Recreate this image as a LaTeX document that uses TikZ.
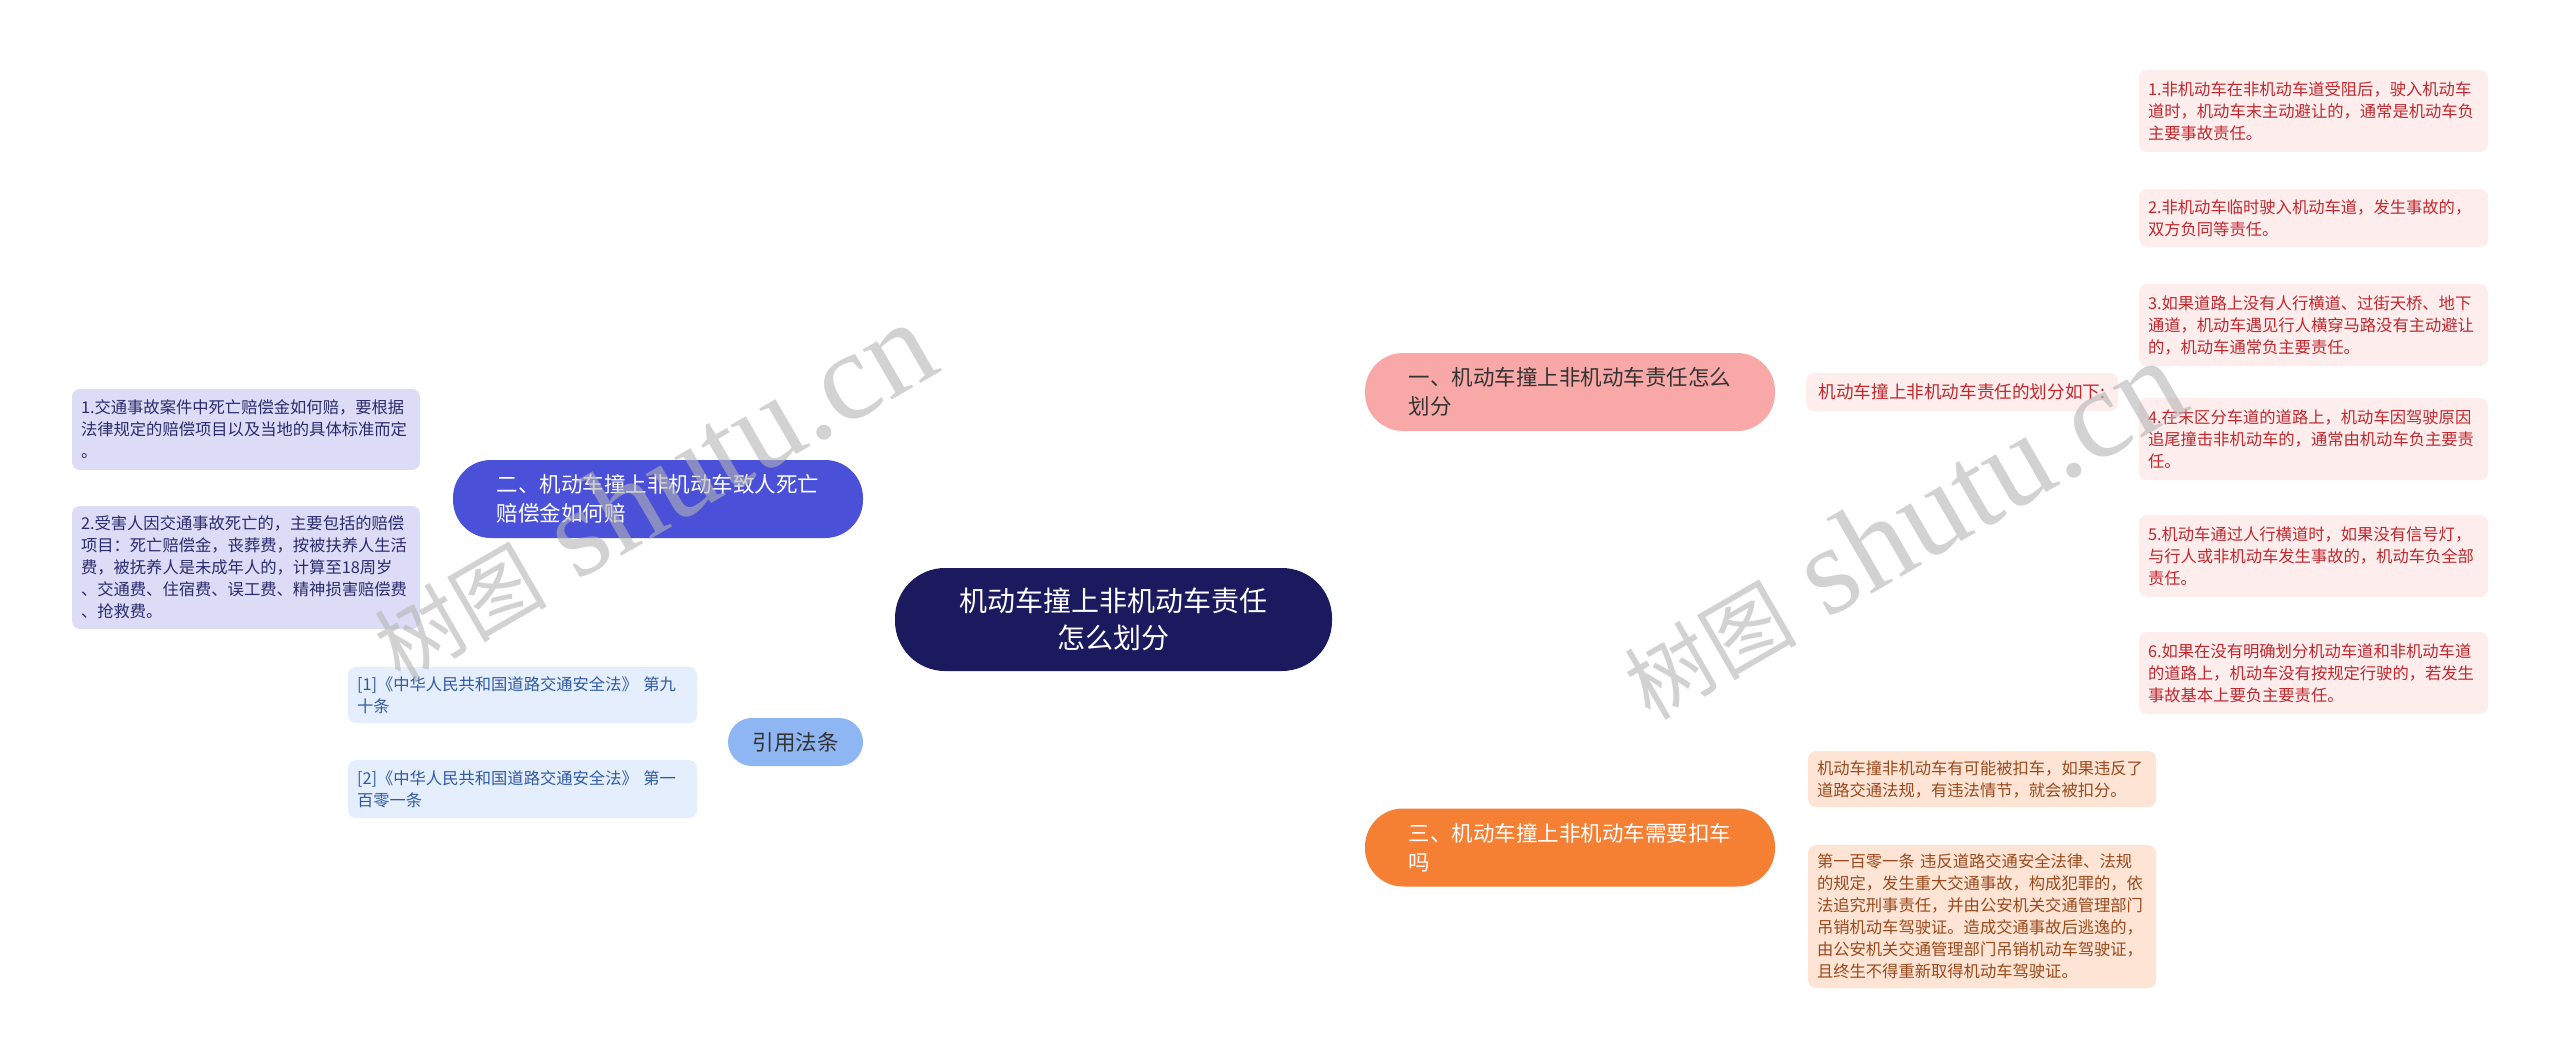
\documentclass[tikz,border=0pt]{standalone}
\usepackage{fontspec}
\setmainfont{Noto Sans CJK SC}
\newfontfamily\wmserif{Liberation Serif}
\usetikzlibrary{calc}
\pgfdeclarelayer{bg}
\pgfdeclarelayer{wm}
\pgfsetlayers{bg,main,wm}
\definecolor{rootbg}{HTML}{1C1A5E}
\definecolor{pinkbg}{HTML}{F9A8A8}
\definecolor{pinkleaf}{HTML}{FDEDED}
\definecolor{pinktext}{HTML}{C0282D}
\definecolor{pinkline}{HTML}{F0A5A5}
\definecolor{navybg}{HTML}{4A50D8}
\definecolor{navyleaf}{HTML}{DCDCF7}
\definecolor{navytext}{HTML}{2A2A6E}
\definecolor{navyline}{HTML}{30349A}
\definecolor{bluebg}{HTML}{8DB6F3}
\definecolor{blueleaf}{HTML}{E5EEFC}
\definecolor{bluetext}{HTML}{2F5AA6}
\definecolor{blueline}{HTML}{7EA6E6}
\definecolor{orbg}{HTML}{F57F33}
\definecolor{orleaf}{HTML}{FDE4D5}
\definecolor{ortext}{HTML}{9A4A1C}
\definecolor{orline}{HTML}{E8803A}
\definecolor{darktext}{HTML}{333333}
\definecolor{wmgray}{HTML}{B4B4B4}
\begin{document}
\begin{tikzpicture}[x=1pt,y=-1pt,
  leaf/.style={rounded corners=8pt, inner xsep=9pt, inner ysep=0pt, align=left,
    font=\fontsize{16.3}{22}\selectfont, text width=331pt},
  pill/.style={rounded corners=38pt, inner xsep=43.5pt, inner ysep=0pt, align=left,
    text width=323pt, minimum height=78pt, font=\fontsize{21.5}{29}\selectfont},
  mainline/.style={line width=2.8pt},
  brk/.style={line width=2pt, rounded corners=9pt},
  wmark/.style={rotate=30, text=wmgray, opacity=0.6, inner sep=0pt}]
\useasboundingbox (0,0) rectangle (2560,1062);
\fill[white] (0,0) rectangle (2560,1062);

% root
\node[fill=rootbg, text=white, rounded corners=50pt, minimum width=437pt, minimum height=103pt,
  align=center, inner sep=0pt, font=\fontsize{28}{37}\selectfont] (root) at (1113.5,619.5)
  {机动车撞上非机动车责任\\怎么划分};

% branch 1
\node[pill, fill=pinkbg, text=darktext] (n1) at (1570,392) {一、机动车撞上非机动车责任怎么\\划分};
\node[rounded corners=8pt, fill=pinkleaf, text=pinktext, minimum width=312pt, minimum height=38pt,
  inner sep=0pt, font=\fontsize{17.6}{22}\selectfont] (m) at (1962,392) {机动车撞上非机动车责任的划分如下:};
\node[leaf, fill=pinkleaf, text=pinktext, minimum height=82pt] (L1) at (2313.5,111)
  {1.非机动车在非机动车道受阻后，驶入机动车\\道时，机动车末主动避让的，通常是机动车负\\主要事故责任。};
\node[leaf, fill=pinkleaf, text=pinktext, minimum height=58pt] (L2) at (2313.5,218)
  {2.非机动车临时驶入机动车道，发生事故的，\\双方负同等责任。};
\node[leaf, fill=pinkleaf, text=pinktext, minimum height=82pt] (L3) at (2313.5,325)
  {3.如果道路上没有人行横道、过街天桥、地下\\通道，机动车遇见行人横穿马路没有主动避让\\的，机动车通常负主要责任。};
\node[leaf, fill=pinkleaf, text=pinktext, minimum height=82pt] (L4) at (2313.5,439)
  {4.在末区分车道的道路上，机动车因驾驶原因\\追尾撞击非机动车的，通常由机动车负主要责\\任。};
\node[leaf, fill=pinkleaf, text=pinktext, minimum height=82pt] (L5) at (2313.5,556)
  {5.机动车通过人行横道时，如果没有信号灯，\\与行人或非机动车发生事故的，机动车负全部\\责任。};
\node[leaf, fill=pinkleaf, text=pinktext, minimum height=82pt] (L6) at (2313.5,673)
  {6.如果在没有明确划分机动车道和非机动车道\\的道路上，机动车没有按规定行驶的，若发生\\事故基本上要负主要责任。};

% branch 3
\node[pill, fill=orbg, text=white] (n3) at (1570,847.5) {三、机动车撞上非机动车需要扣车\\吗};
\node[leaf, fill=orleaf, text=ortext, minimum height=56pt, text width=330pt] (a) at (1982,779)
  {机动车撞非机动车有可能被扣车，如果违反了\\道路交通法规，有违法情节，就会被扣分。};
\node[leaf, fill=orleaf, text=ortext, minimum height=143pt, text width=330pt] (b) at (1982,916.5)
  {第一百零一条 违反道路交通安全法律、法规\\的规定，发生重大交通事故，构成犯罪的，依\\法追究刑事责任，并由公安机关交通管理部门\\吊销机动车驾驶证。造成交通事故后逃逸的，\\由公安机关交通管理部门吊销机动车驾驶证，\\且终生不得重新取得机动车驾驶证。};

% branch 2
\node[pill, fill=navybg, text=white] (n2) at (658,499) {二、机动车撞上非机动车致人死亡\\赔偿金如何赔};
\node[leaf, fill=navyleaf, text=navytext, minimum height=81pt, text width=330pt] (c1) at (246,429.5)
  {1.交通事故案件中死亡赔偿金如何赔，要根据\\法律规定的赔偿项目以及当地的具体标准而定\\。};
\node[leaf, fill=navyleaf, text=navytext, minimum height=123pt, text width=330pt] (c2) at (246,567.5)
  {2.受害人因交通事故死亡的，主要包括的赔偿\\项目：死亡赔偿金，丧葬费，按被扶养人生活\\费，被抚养人是未成年人的，计算至18周岁\\、交通费、住宿费、误工费、精神损害赔偿费\\、抢救费。};

% references
\node[fill=bluebg, text=darktext, rounded corners=24pt, minimum width=135pt, minimum height=48pt,
  inner sep=0pt, font=\fontsize{21.5}{29}\selectfont] (q) at (795.5,742) {引用法条};
\node[leaf, fill=blueleaf, text=bluetext, minimum height=56pt] (r1) at (522.5,695)
  {[1]《中华人民共和国道路交通安全法》 第九\\十条};
\node[leaf, fill=blueleaf, text=bluetext, minimum height=58pt] (r2) at (522.5,789)
  {[2]《中华人民共和国道路交通安全法》 第一\\百零一条};

\begin{pgfonlayer}{bg}
  % main curves from root
  \coordinate (s1) at (1120,620);
  \coordinate (s2) at (1098,620);
  \coordinate (s3) at (1088,620);
  \coordinate (s4) at (1118,620);
  \draw[mainline, pinkline] (s1) .. controls (s1 |- n1.west) .. (n1.west);
  \draw[mainline, navyline] (s2) .. controls (s2 |- n2.east) .. (n2.east);
  \draw[mainline, blueline] (s3) .. controls (s3 |- q.east) .. (q.east);
  \draw[mainline, orline] (s4) .. controls (s4 |- n3.west) .. (n3.west);

  % pink brackets
  \draw[line width=2pt, pinkline] (n1.east) -- (m.west);
  \coordinate (pb) at ($(m.east)+(6,0)$);
  \draw[line width=2pt, pinkline] (m.east) -- (pb);
  \foreach \t in {L1,L2,L3,L4,L5,L6} \draw[brk, pinkline] (pb) |- (\t.west);

  % orange brackets
  \coordinate (ob) at ($(n3.east)+(18,0)$);
  \draw[line width=2pt, orline] (n3.east) -- (ob);
  \foreach \t in {a,b} \draw[brk, orline] (ob) |- (\t.west);

  % navy brackets
  \coordinate (nb) at ($(n2.west)+(-16,0)$);
  \draw[line width=2pt, navyline] (n2.west) -- (nb);
  \foreach \t in {c1,c2} \draw[brk, navyline] (nb) |- (\t.east);

  % blue brackets
  \coordinate (qb) at ($(q.west)+(-15,0)$);
  \draw[line width=2pt, blueline] (q.west) -- (qb);
  \foreach \t in {r1,r2} \draw[brk, blueline] (qb) |- (\t.east);
\end{pgfonlayer}

\begin{pgfonlayer}{wm}
  \node[wmark] (w1) at (652,492) {{\fontsize{86}{86}\selectfont 树图}{\wmserif\fontsize{126}{126}\selectfont\ shutu.cn}};
  \node[wmark] (w2) at (1902,530) {{\fontsize{86}{86}\selectfont 树图}{\wmserif\fontsize{126}{126}\selectfont\ shutu.cn}};
\end{pgfonlayer}
\end{tikzpicture}
\end{document}
